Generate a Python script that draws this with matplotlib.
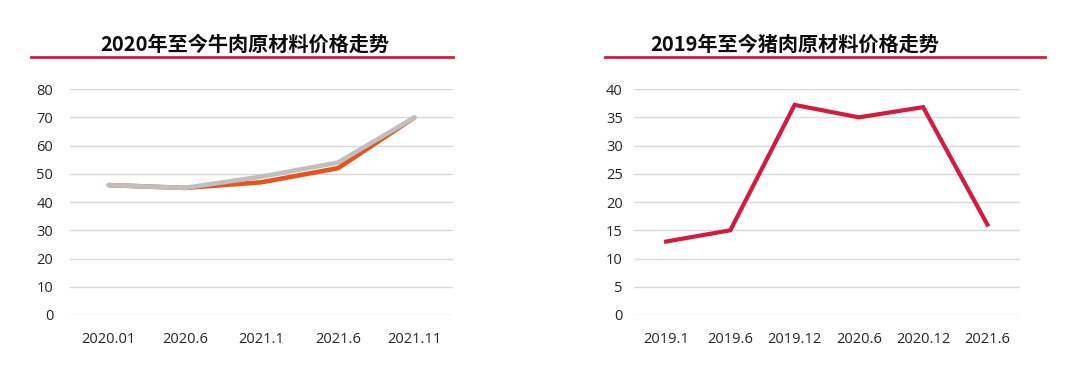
import matplotlib
matplotlib.use("Agg")
import matplotlib.pyplot as plt
from matplotlib.lines import Line2D

plt.rcParams['font.family'] = ['Noto Sans CJK SC', 'DejaVu Sans']

# beef prices, 2020 to now
beef_dates = ['2020.01', '2020.6', '2021.1', '2021.6', '2021.11']
beef_orange = [46, 45, 47, 52, 70]
beef_gray = [46, 45, 49, 54, 70]

# pork prices, 2019 to now
pork_dates = ['2019.1', '2019.6', '2019.12', '2020.6', '2020.12', '2021.6']
pork_vals = [13, 15, 37.2, 35, 36.8, 16]

red = '#d7193e'
grid_c = '#d9d9d9'
txt_c = '#262626'

fig = plt.figure(figsize=(10.8, 3.74), dpi=100)

def style(ax, ymax, step, pad_y):
    ax.set_ylim(0, ymax)
    ax.set_yticks(range(0, ymax + 1, step))
    for s in ax.spines.values():
        s.set_visible(False)
    ax.grid(axis='y', color=grid_c, linewidth=1)
    ax.set_axisbelow(True)
    ax.tick_params(axis='both', length=0, labelcolor=txt_c)
    ax.tick_params(axis='y', pad=pad_y)
    ax.tick_params(axis='x', pad=12)
    for lab in ax.get_xticklabels() + ax.get_yticklabels():
        lab.set_fontfamily(['Open Sans', 'DejaVu Sans'])
        lab.set_fontsize(10.5)

# left chart
ax1 = fig.add_axes([0.0648, 0.1578, 0.3546, 0.604])
x1 = range(len(beef_dates))
ax1.plot(x1, beef_orange, color='#e8531c', linewidth=3.3, solid_capstyle='butt')
ax1.plot(x1, beef_gray, color='#bfbfbf', linewidth=3.3, solid_capstyle='round')
ax1.set_xlim(-0.5, len(beef_dates) - 0.5)
ax1.set_xticks(list(x1))
ax1.set_xticklabels(beef_dates)
style(ax1, 80, 10, 12)

# right chart
ax2 = fig.add_axes([0.587, 0.1578, 0.357, 0.604])
x2 = range(len(pork_dates))
ax2.plot(x2, pork_vals, color=red, linewidth=3, solid_joinstyle='miter')
ax2.set_xlim(-0.5, len(pork_dates) - 0.5)
ax2.set_xticks(list(x2))
ax2.set_xticklabels(pork_dates)
style(ax2, 40, 5, 8)

# titles with red underline
fig.text(245 / 1080, 1 - 44 / 374, '2020年至今牛肉原材料价格走势', ha='center', va='center',
         fontsize=14.5, fontweight='bold', color='#0d0d0d')
fig.add_artist(Line2D([31 / 1080, 453 / 1080], [1 - 57 / 374] * 2, color=red, linewidth=2))
fig.text(795 / 1080, 1 - 44 / 374, '2019年至今猪肉原材料价格走势', ha='center', va='center',
         fontsize=14.5, fontweight='bold', color='#0d0d0d')
fig.add_artist(Line2D([605 / 1080, 1045 / 1080], [1 - 57 / 374] * 2, color=red, linewidth=2))

fig.savefig('out.png', dpi=100, facecolor='white')
